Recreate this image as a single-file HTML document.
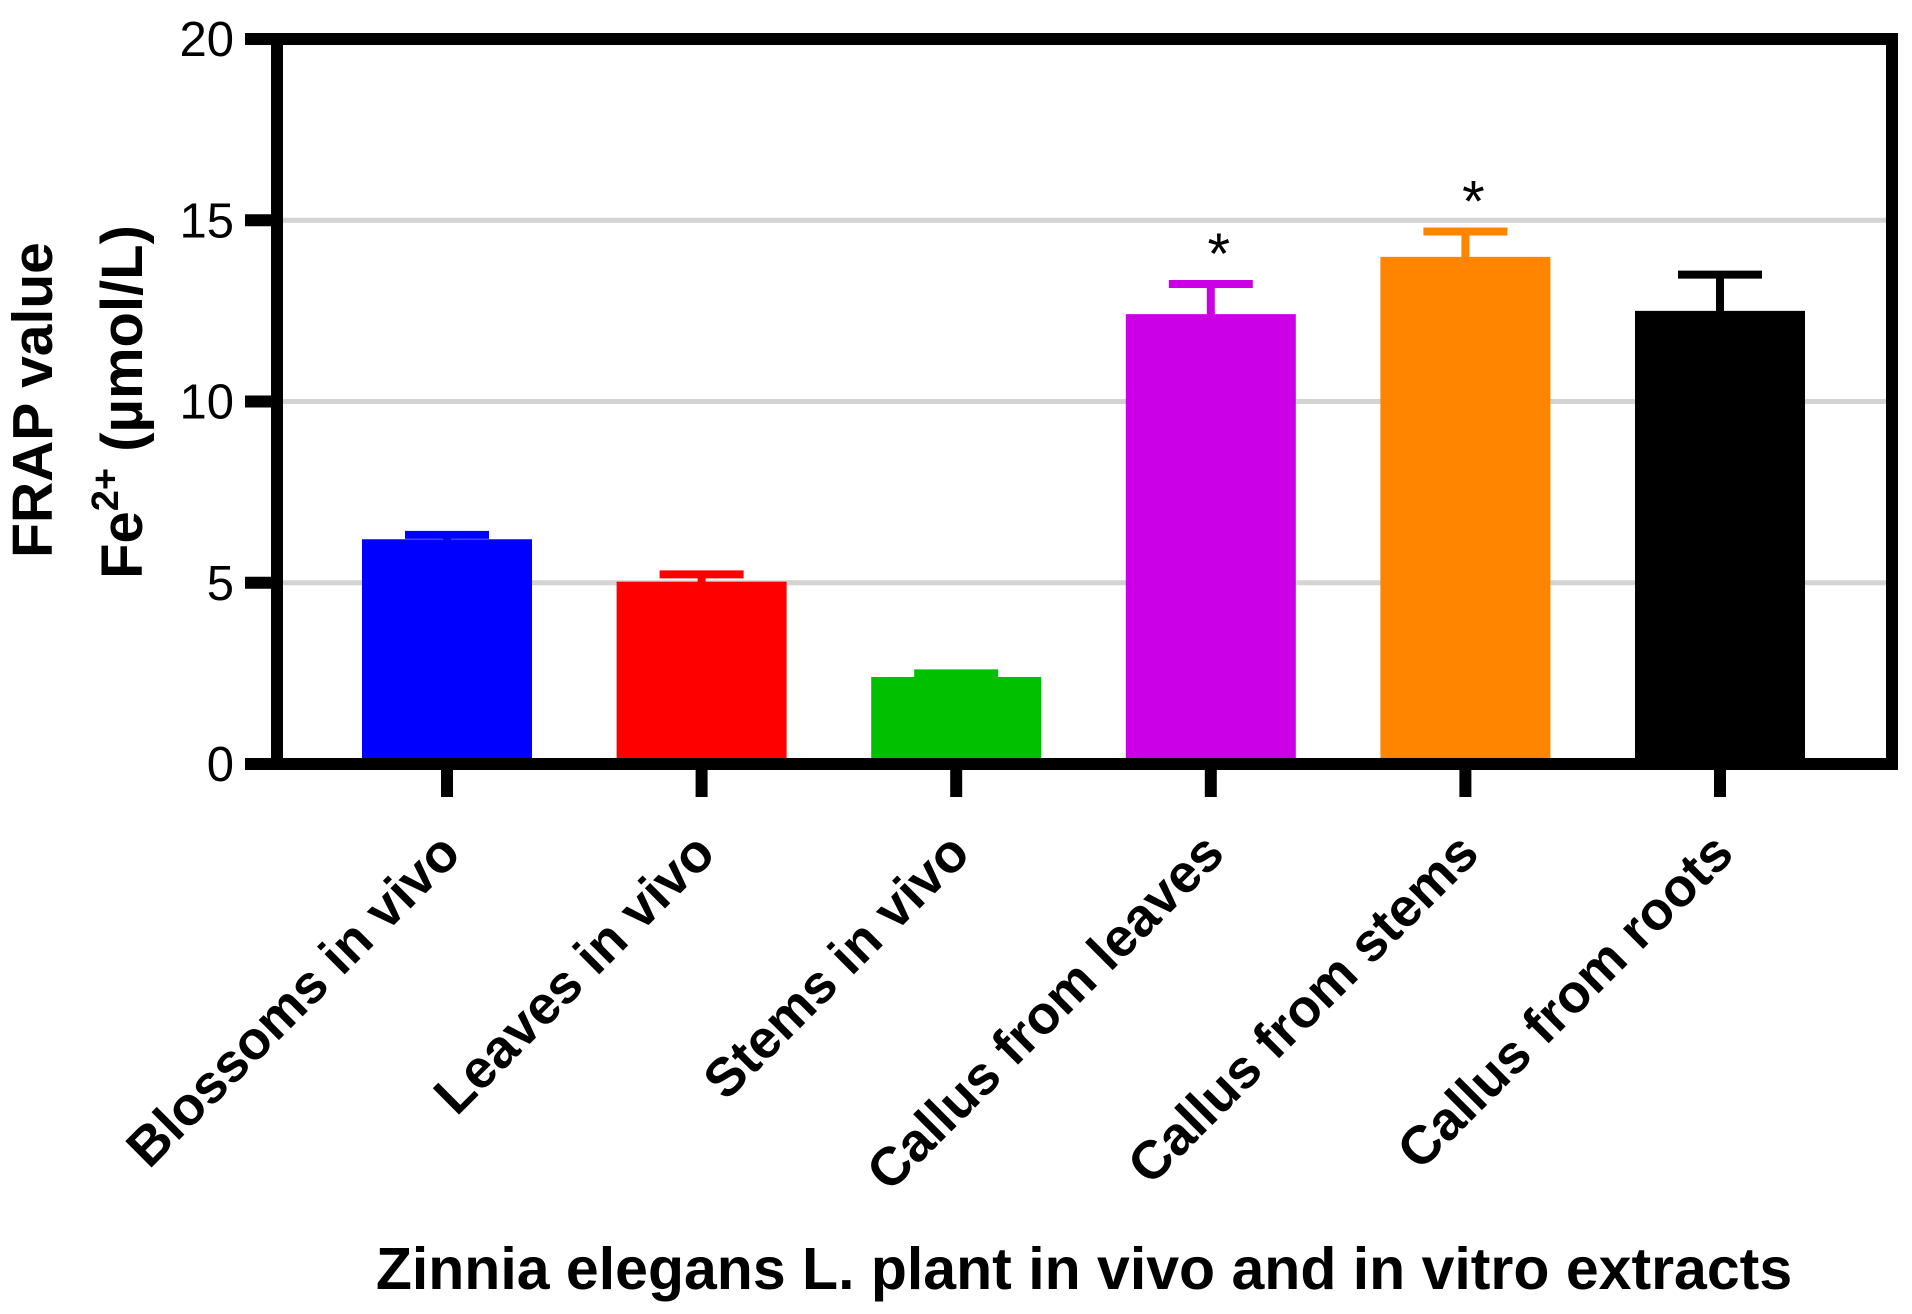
<!DOCTYPE html>
<html><head><meta charset="utf-8"><style>
html,body{margin:0;padding:0;background:#fff;}
svg{display:block;font-family:"Liberation Sans",Arial,sans-serif;}
</style></head><body>
<svg id="chart" width="1912" height="1314" viewBox="0 0 1912 1314" xmlns="http://www.w3.org/2000/svg">
<g id="grid"></g>
<g id="bars"></g>
<g id="axes"></g>
<text transform="translate(52,400) rotate(-90)" text-anchor="middle" font-size="57" font-weight="bold">FRAP value</text>
<text transform="translate(142,402) rotate(-90)" text-anchor="middle" font-size="58" font-weight="bold">Fe<tspan dy="-24" font-size="38">2+</tspan><tspan dy="24"> (µmol/L)</tspan></text>
<text x="1084" y="1289" text-anchor="middle" font-size="59" font-weight="bold">Zinnia elegans L. plant in vivo and in vitro extracts</text>
</svg>
<script>
const categories = ["Blossoms in vivo","Leaves in vivo","Stems in vivo","Callus from leaves","Callus from stems","Callus from roots"];
const values = [6.2, 5.03, 2.4, 12.41, 13.99, 12.5];
const errors = [0.12, 0.2, 0.1, 0.83, 0.7, 1.0];
const colors = ["#0000ff","#ff0000","#00c000","#cc00e6","#ff8400","#000000"];
const significance = ["","","","*","*",""];
const yTicks = [0,5,10,15,20];

const NS="http://www.w3.org/2000/svg";
const L=277,R=1892,T=39,B=764;
function y(v){return B-(v/20)*(B-T);}
function xc(i){return 447+i*254.6;}
function mk(tag,attrs,parent){const e=document.createElementNS(NS,tag);for(const k in attrs)e.setAttribute(k,attrs[k]);parent.appendChild(e);return e;}
const grid=document.getElementById('grid'),bars=document.getElementById('bars'),axes=document.getElementById('axes');
yTicks.forEach(t=>{
  if(t>0&&t<20){const g=mk('line',{x1:L,x2:R,y1:y(t),y2:y(t),stroke:'#d3d3d3','stroke-width':5},grid);
  
  }
  const tk=mk('line',{x1:245,x2:L,y1:y(t),y2:y(t),stroke:'#000','stroke-width':12},axes);
  
  
  const lb=mk('text',{x:234,y:y(t)+17,'text-anchor':'end','font-size':49},axes);
  lb.textContent=t;
  
  
});
categories.forEach((c,i)=>{
  const cx=xc(i),w=170,top=y(values[i]),et=y(values[i]+errors[i]);
  const eb=mk('line',{x1:cx,x2:cx,y1:top+2,y2:et,stroke:colors[i],'stroke-width':8},bars);
  
  
  const cap=mk('line',{x1:cx-42,x2:cx+42,y1:et,y2:et,stroke:colors[i],'stroke-width':8},bars);
  
  
  const r=mk('rect',{x:cx-w/2,y:top,width:w,height:B-top,fill:colors[i]},bars);
  
  
  if(significance[i]){const s=mk('text',{x:cx+8,y:et-10,'text-anchor':'middle','font-size':58},bars);
    s.textContent=significance[i];
    
    }
  const tk=mk('line',{x1:cx,x2:cx,y1:B,y2:797,stroke:'#000','stroke-width':12},axes);
  
  
  const lb=mk('text',{transform:`translate(${cx+16},856) rotate(-45)`,'text-anchor':'end','font-size':54,'font-weight':'bold'},axes);
  lb.textContent=c;
  
  
});
const fr=mk('rect',{x:L,y:T,width:R-L,height:B-T,fill:'none',stroke:'#000','stroke-width':12},axes);


</script>
</body></html>
